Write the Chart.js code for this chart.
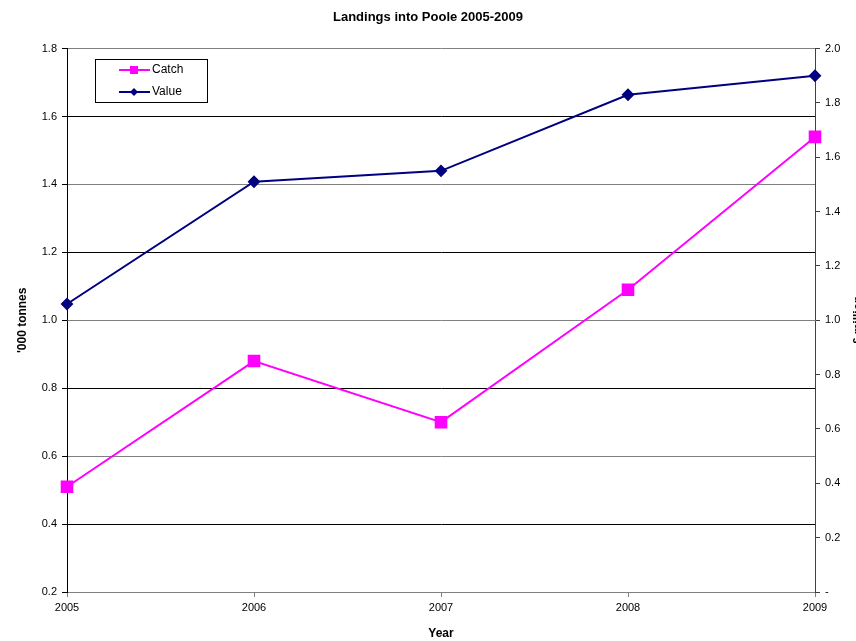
<!DOCTYPE html>
<html>
<head>
<meta charset="utf-8">
<script src="https://cdn.jsdelivr.net/npm/chart.js@4"></script>
<style>
    body { margin: 0; background: #fff; }
    #wrap { width: 856px; height: 641px; }
</style>
</head>
<body>
<div id="wrap"><canvas id="lineChart" width="856" height="641"></canvas></div>
<script>
// chart data
const years = ["2005", "2006", "2007", "2008", "2009"];
const catchTonnes = [0.51, 0.88, 0.70, 1.09, 1.54];   // '000 tonnes, left axis
const valueMillion = [1.06, 1.51, 1.55, 1.83, 1.90];  // £ million, right axis

const FONT = "'Liberation Sans', Arial, sans-serif";

// legend box drawn inside the plot, like the original
const legendBox = {
    id: "legendBox",
    afterDraw(chart) {
        const ctx = chart.ctx;
        const x = 95, y = 59, w = 112, h = 43;
        ctx.save();
        ctx.fillStyle = "#fff";
        ctx.fillRect(x, y, w, h);
        ctx.strokeStyle = "#000";
        ctx.lineWidth = 1;
        ctx.strokeRect(x + 0.5, y + 0.5, w, h);
        chart.data.datasets.forEach((ds, i) => {
            const ly = y + 11 + i * 22;
            ctx.strokeStyle = ds.borderColor;
            ctx.lineWidth = 2;
            ctx.beginPath();
            ctx.moveTo(119, ly);
            ctx.lineTo(150, ly);
            ctx.stroke();
            ctx.fillStyle = ds.borderColor;
            if (ds.pointStyle === "rect") {
                ctx.fillRect(130, ly - 4, 8, 8);
            } else {
                ctx.beginPath();
                ctx.moveTo(134, ly - 4);
                ctx.lineTo(138, ly);
                ctx.lineTo(134, ly + 4);
                ctx.lineTo(130, ly);
                ctx.closePath();
                ctx.fill();
            }
            ctx.fillStyle = "#000";
            ctx.font = "12px " + FONT;
            ctx.textBaseline = "middle";
            ctx.fillText(ds.label, 152, ly);
        });
        // right axis title, cut off by the edge of the picture
        ctx.translate(859, 320);
        ctx.rotate(-Math.PI / 2);
        ctx.font = "bold 12px " + FONT;
        ctx.textAlign = "center";
        ctx.textBaseline = "middle";
        ctx.fillStyle = "#000";
        ctx.fillText("£ million", 0, 0);
        ctx.restore();
    },
};

const ctx = document.getElementById("lineChart").getContext("2d");
const lineChart = new Chart(ctx, {
    type: "line",
    data: {
        labels: years,
        datasets: [
            {
                label: "Catch",
                data: catchTonnes,
                yAxisID: "y",
                borderColor: "#FF00FF",
                backgroundColor: "#FF00FF",
                borderWidth: 2,
                pointStyle: "rect",
                pointRadius: 7.5,
                pointHoverRadius: 7.5,
                tension: 0,
            },
            {
                label: "Value",
                data: valueMillion,
                yAxisID: "y1",
                borderColor: "#000080",
                backgroundColor: "#000080",
                borderWidth: 2,
                pointStyle: "rectRot",
                pointRadius: 5,
                pointHoverRadius: 5,
                tension: 0,
            },
        ],
    },
    options: {
        responsive: false,
        animation: false,
        layout: { padding: 0 },
        plugins: {
            legend: { display: false },
            tooltip: { enabled: false },
            title: {
                display: true,
                text: "Landings into Poole 2005-2009",
                color: "#000",
                font: { family: FONT, size: 13, weight: "bold", lineHeight: 1.2 },
                padding: { top: 10, bottom: 23 },
            },
        },
        scales: {
            x: {
                type: "category",
                offset: false,
                afterFit: (s) => { s.height = 49; },
                grid: { drawOnChartArea: false, tickLength: 5, color: "#808080" },
                border: { color: "#808080", width: 1 },
                ticks: { color: "#000", padding: 4, maxRotation: 0, font: { family: FONT, size: 11 } },
                title: {
                    display: true,
                    text: "Year",
                    color: "#000",
                    font: { family: FONT, size: 12, weight: "bold" },
                    padding: { top: 6, bottom: 0 },
                },
            },
            y: {
                position: "left",
                min: 0.2,
                max: 1.8,
                afterFit: (s) => { s.width = 67; },
                grid: {
                    color: (c) => (c.index % 2 === 0 ? "#808080" : "#000"),
                    tickColor: "#000",
                    tickLength: 5,
                },
                border: { color: "#000", width: 1 },
                ticks: {
                    stepSize: 0.2,
                    color: "#000",
                    padding: 5,
                    font: { family: FONT, size: 11 },
                    callback: (v) => v.toFixed(1),
                },
                title: {
                    display: true,
                    text: "'000 tonnes",
                    color: "#000",
                    font: { family: FONT, size: 12, weight: "bold" },
                    padding: { top: 15, bottom: 4 },
                },
            },
            y1: {
                position: "right",
                min: 0,
                max: 2.0,
                afterFit: (s) => { s.width = 41; },
                grid: { drawOnChartArea: false, tickLength: 5, color: "#404040" },
                border: { color: "#404040", width: 1 },
                ticks: {
                    stepSize: 0.2,
                    color: "#000",
                    padding: 5,
                    font: { family: FONT, size: 11 },
                    callback: (v) => (Math.abs(v) < 1e-9 ? "-" : v.toFixed(1)),
                },
            },
        },
    },
    plugins: [legendBox],
});
</script>
</body>
</html>
